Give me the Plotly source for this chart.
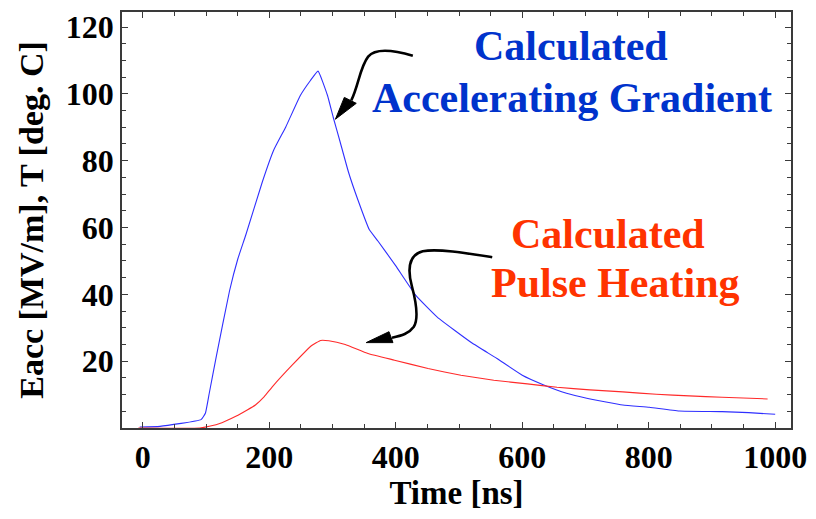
import plotly.graph_objects as go

# ---- data ----
t_eacc = [-5, 27, 92, 99, 105, 116, 137, 150, 163, 189, 207, 226, 249, 265, 277,
          292, 301, 312, 325, 340, 358, 372, 400, 432, 466, 520, 560, 600, 634,
          670, 702, 759, 801, 848, 916, 958, 1000]
v_eacc = [0.3, 0.5, 2.5, 4.5, 10.4, 21.3, 41.0, 50.5, 57.9, 73.7, 83.2, 90.1, 99.5,
          104.0, 106.8, 99.5, 93.0, 85.6, 76.7, 68.3, 59.4, 55.9, 48.5, 39.6, 33.1,
          25.5, 20.8, 15.8, 12.9, 10.4, 8.9, 6.9, 6.2, 5.1, 4.9, 4.6, 4.1]

t_heat = [-7, 90, 105, 125, 147, 165, 178, 192, 205, 236, 267, 281, 294, 320, 356,
          398, 451, 503, 555, 608, 655, 707, 759, 812, 864, 916, 988]
v_heat = [0.0, 0.0, 0.5, 1.6, 3.5, 5.4, 6.9, 9.4, 12.4, 18.8, 24.7, 26.2, 26.1,
          25.0, 22.3, 20.3, 17.8, 15.8, 14.3, 13.2, 12.2, 11.4, 10.8, 10.1, 9.6,
          9.2, 8.7]

x_ticks = [0, 200, 400, 600, 800, 1000]
y_ticks = [20, 40, 60, 80, 100, 120]

X_RANGE = [-33, 1025]
Y_RANGE = [0, 124.5]

W, H = 816, 519
ML, MR, MT, MB = 122, 20, 9, 91
PW, PH = W - ML - MR, H - MT - MB


def px(xpix, ypix):
    """pixel position in the figure -> paper coordinates"""
    return (xpix - ML) / PW, (H - MB - ypix) / PH


fig = go.Figure()
fig.add_trace(go.Scatter(x=t_eacc, y=v_eacc, mode="lines", line_shape="spline",
                         line=dict(color="#2f2fff", width=1.1, smoothing=0.35),
                         showlegend=False))
fig.add_trace(go.Scatter(x=t_heat, y=v_heat, mode="lines", line_shape="spline",
                         line=dict(color="#ff2a2a", width=1.1, smoothing=0.35),
                         showlegend=False))

font_b = dict(family="Liberation Serif", size=32, color="black", weight="bold")
frame = "#3a3a3a"

fig.update_xaxes(range=X_RANGE, tickvals=x_ticks,
                 ticks="inside", ticklen=6,
                 tickcolor=frame, tickwidth=1.2, showline=True, linecolor=frame,
                 linewidth=1.5, mirror="allticks", showgrid=False, zeroline=False,
                 tickfont=font_b,
                 minor=dict(dtick=50, tick0=0, ticks="inside", ticklen=4,
                            tickcolor=frame, tickwidth=1.1, showgrid=False),
                 title=dict(text="Time [ns]", font=dict(family="Liberation Serif", size=33,
                                                      color="black", weight="bold"),
                            standoff=4))
fig.update_yaxes(range=Y_RANGE, tickvals=[0] + y_ticks,
                 ticktext=[""] + [str(v) for v in y_ticks],
                 ticks="inside", ticklen=6,
                 tickcolor=frame, tickwidth=1.2, showline=True, linecolor=frame,
                 linewidth=1.5, mirror="allticks", showgrid=False, zeroline=False,
                 tickfont=font_b,
                 minor=dict(dtick=5, tick0=0, ticks="inside", ticklen=4,
                            tickcolor=frame, tickwidth=1.1, showgrid=False),
                 title=dict(text="Eacc [MV/m], T [deg. C]",
                            font=dict(family="Liberation Serif", size=34,
                                      color="black", weight="bold"),
                            standoff=12))

blue_txt = "#0033cc"
red_txt = "#ff3300"
ann_font = dict(family="Liberation Serif", size=42, weight="bold")
labels = [
    ("Calculated", 574, 43, blue_txt),
    ("Accelerating Gradient", 575, 96, blue_txt),
    ("Calculated", 612, 233, red_txt),
    ("Pulse Heating", 619, 282, red_txt),
]
for txt, xx, yy, col in labels:
    xp, yp = px(xx, yy)
    fig.add_annotation(text=txt, x=xp, y=yp, xref="paper", yref="paper",
                       showarrow=False, xanchor="center", yanchor="middle",
                       font=dict(ann_font, color=col))

# curved arrows
arrow1 = [("M", (415, 53)), ("C", (398, 48), (378, 44), (370, 54)),
          ("C", (362, 64), (360, 84), (353, 98))]
head1 = [("M", (337, 117)), ("L", (346, 95)), ("L", (358, 101)), ("Z",)]
arrow2 = [("M", (495, 256)), ("C", (470, 252), (440, 247), (425, 250)),
          ("C", (410, 254), (410, 270), (414, 285)),
          ("C", (418, 300), (421, 318), (416, 326)),
          ("C", (411, 333), (404, 335), (394, 337))]
head2 = [("M", (368, 342)), ("L", (391, 331)), ("L", (395, 342)), ("Z",)]


def path_str(segs):
    out = []
    for seg in segs:
        cmd = seg[0]
        pts = seg[1:]
        out.append(cmd + " ".join(f"{px(a, b)[0]:.5f},{px(a, b)[1]:.5f}" for a, b in pts))
    return " ".join(out)


for segs in (arrow1, arrow2):
    fig.add_shape(type="path", path=path_str(segs), xref="paper", yref="paper",
                  line=dict(color="black", width=2.6), fillcolor="rgba(0,0,0,0)")
for segs in (head1, head2):
    fig.add_shape(type="path", path=path_str(segs), xref="paper", yref="paper",
                  line=dict(color="black", width=1), fillcolor="black")

fig.update_layout(width=W, height=H, margin=dict(l=ML, r=MR, t=MT, b=MB),
                  plot_bgcolor="white", paper_bgcolor="white", showlegend=False)

fig.write_html("out.html", config={"displayModeBar": False},
               post_script="document.body.style.margin='0px';"
                           "document.body.style.overflow='hidden';")
